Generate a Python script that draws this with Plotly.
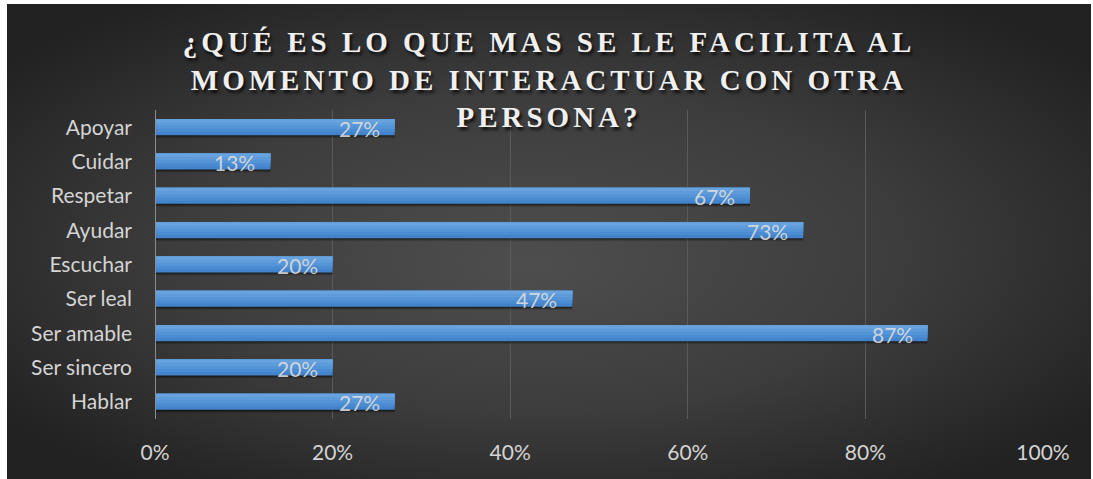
import base64
import plotly.graph_objects as go

# ---- data (top to bottom as displayed) ----
categories = ["Apoyar", "Cuidar", "Respetar", "Ayudar", "Escuchar",
              "Ser leal", "Ser amable", "Ser sincero", "Hablar"]
values = [0.27, 0.13, 0.67, 0.73, 0.20, 0.47, 0.87, 0.20, 0.27]
x_tickvals = [0, 0.2, 0.4, 0.6, 0.8, 1.0]
x_ticktext = ["0%", "20%", "40%", "60%", "80%", "100%"]
title_text = "¿QUÉ ES LO QUE MAS SE LE FACILITA AL<br>MOMENTO DE INTERACTUAR CON OTRA<br>PERSONA?"

# plotting order bottom -> top
cats = categories[::-1]
vals = values[::-1]
labels = [f"{round(v*100)}%" for v in vals]

W, H = 1093, 479
ML, MR, MT, MB = 155, 50, 110, 60
PW, PH = W - ML - MR, H - MT - MB

BW = 0.465  # bar thickness (fraction of band)
FONT = "Lato, Open Sans, sans-serif"

fig = go.Figure()

# soft shadow under bars
for dy, a in [(0.09, 0.12), (0.06, 0.2), (0.035, 0.3)]:
    fig.add_trace(go.Bar(
        y=cats, x=vals, orientation="h", width=BW, offset=-BW/2 - dy,
        marker=dict(color=f"rgba(0,0,0,{a})", line=dict(width=0)),
        hoverinfo="skip", showlegend=False))
# gradient layers of bars
for w_frac, col in [(1.0, "#4283cb"), (0.8, "#4b8bd1"), (0.6, "#5594d6"),
                    (0.4, "#5e9bda"), (0.2, "#68a3de")]:
    fig.add_trace(go.Bar(
        y=cats, x=vals, orientation="h", width=BW * w_frac, offset=BW/2 - BW * w_frac,
        marker=dict(color=col, line=dict(width=0)),
        hoverinfo="skip", showlegend=False))

# value labels near the bar ends
for c, v, t in zip(cats, vals, labels):
    fig.add_annotation(x=v, y=c, xref="x", yref="y", text=t, showarrow=False,
                       xanchor="right", yanchor="middle", xshift=-13, yshift=-1,
                       font=dict(family=FONT, size=21, color="rgba(222,222,222,0.9)"))

# radial gradient background as an SVG image
svg = '''<svg xmlns="http://www.w3.org/2000/svg" width="1084" height="475" viewBox="0 0 1084 475" preserveAspectRatio="none">
<defs><radialGradient id="g" cx="0.5" cy="0.5" r="0.62" fx="0.48" fy="0.55">
<stop offset="0" stop-color="#4e4e4e"/><stop offset="0.55" stop-color="#3c3c3c"/><stop offset="1" stop-color="#222222"/>
</radialGradient></defs><rect width="1084" height="475" fill="url(#g)"/></svg>'''
src = "data:image/svg+xml;base64," + base64.b64encode(svg.encode()).decode()

x0px, x1px, y0px, y1px = 7, 1091, 4, 479
fig.add_layout_image(dict(
    source=src, xref="paper", yref="paper",
    x=(x0px - ML) / PW, y=(H - MB - y0px) / PH,
    sizex=(x1px - x0px) / PW, sizey=(y1px - y0px) / PH,
    xanchor="left", yanchor="top", sizing="stretch", layer="below"))

fig.update_layout(
    width=W, height=H,
    margin=dict(l=ML, r=MR, t=MT, b=MB, autoexpand=False),
    paper_bgcolor="white", plot_bgcolor="rgba(0,0,0,0)",
    barmode="overlay",
    title=dict(text=title_text, x=(x0px + x1px) / 2 / W, xanchor="center",
               y=1 - 52 / H, yanchor="middle", yref="container",
               font=dict(family="Liberation Serif, Times New Roman, serif", size=29,
                         color="#f0f0f0", weight="bold",
                         shadow="2px 3px 3px rgba(0,0,0,0.75)")),
    xaxis=dict(range=[0, 1.0], tickvals=x_tickvals, ticktext=x_ticktext,
               showgrid=True, gridcolor="#5a5a5a", gridwidth=1,
               zeroline=False, showline=False, ticks="",
               ticklabelstandoff=19,
               tickfont=dict(family=FONT, size=21, color="#d4d4d4")),
    yaxis=dict(type="category", categoryorder="array", categoryarray=cats,
               showgrid=False, zeroline=False, showline=False, ticks="",
               ticklabelstandoff=22,
               tickfont=dict(family=FONT, size=21, color="#d4d4d4")),
)
# y axis line at x = 0
fig.add_vline(x=0, line=dict(color="#8c8c8c", width=2), layer="above")

post = """
document.body.style.margin='0';
document.body.style.overflow='hidden';
var gd=document.getElementById('{plot_id}');
function ls(){gd.querySelectorAll('.gtitle').forEach(function(t){t.style.letterSpacing='4px';});}
ls(); gd.on('plotly_afterplot', ls);
"""
fig.write_html("out.html", post_script=post, config={"displayModeBar": False})
